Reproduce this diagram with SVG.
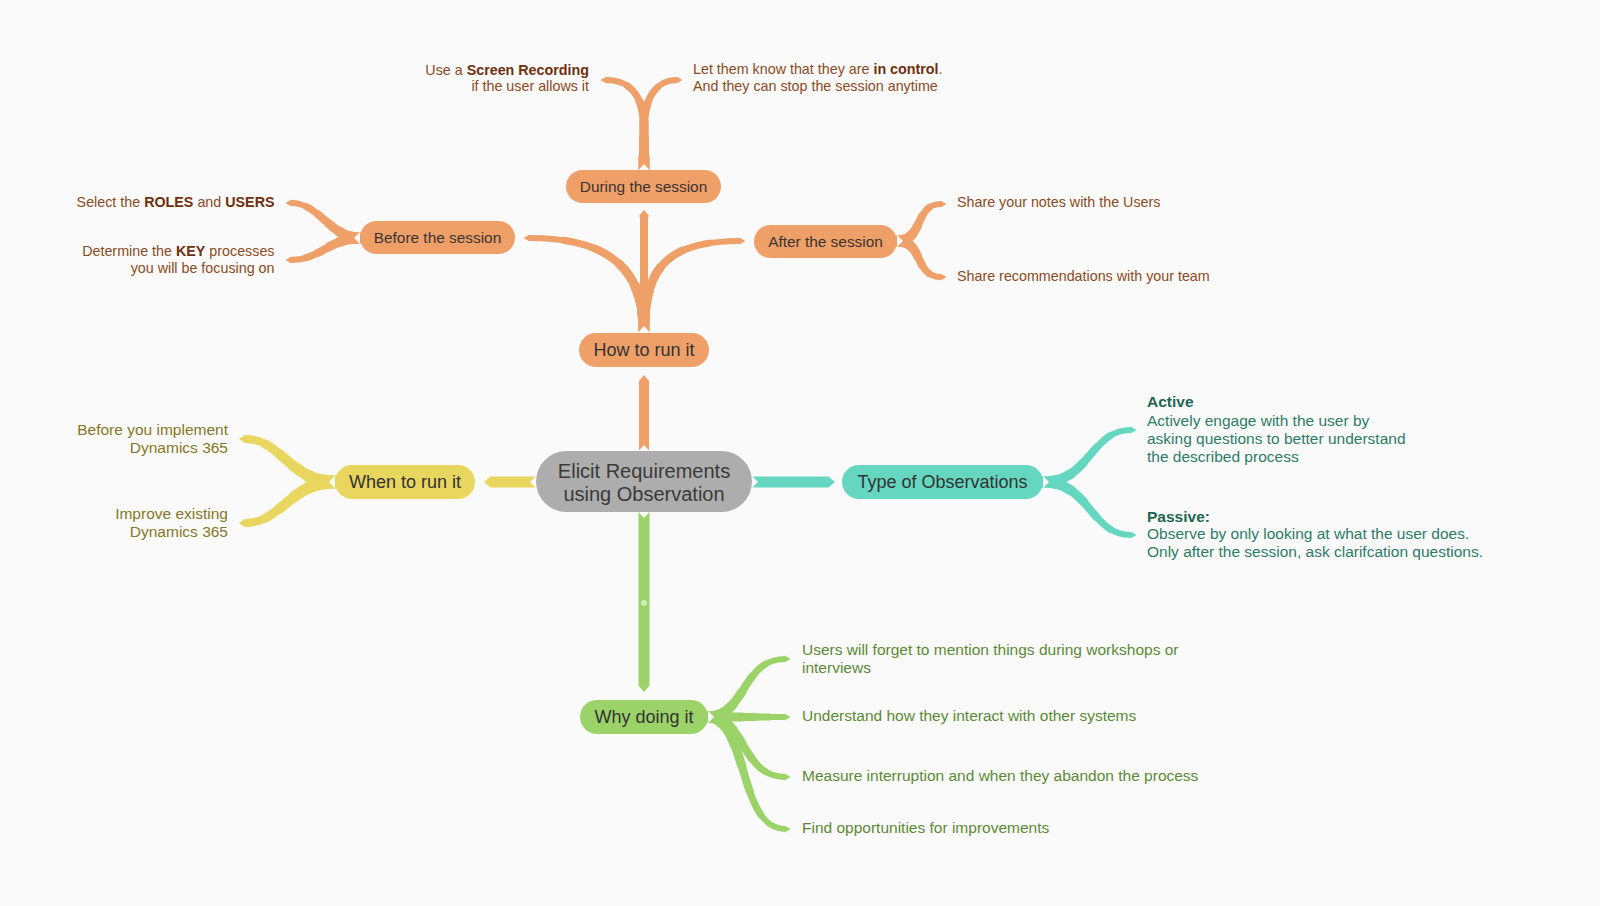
<svg xmlns="http://www.w3.org/2000/svg" width="1600" height="906" viewBox="0 0 1600 906">
<defs>
<style>
text{font-family:"Liberation Sans",Arial,sans-serif}
.ct{fill:#3a3a3a;font-size:20px;text-anchor:middle}
.nt{fill:#333333;font-size:18px;text-anchor:middle}
.st{fill:#3b3430;font-size:15.4px;text-anchor:middle}
.lo{fill:#8B4A24;font-size:14.3px}
.bo{font-weight:bold;fill:#6E2F0E}
.ly{fill:#847826;font-size:15.5px;text-anchor:end}
.lt{fill:#2E7B68;font-size:15.5px}
.bt{font-weight:bold;fill:#1E6652}
.lg{fill:#5B8A36;font-size:15.5px}
.cn path,.cn use{fill:none}
.o{stroke:#EF9F68}
.y{stroke:#E8D65E}
.t{stroke:#65D7C0}
.g{stroke:#9BD369}
.w0{stroke-width:6}
.w1{stroke-width:7;stroke-dasharray:80 200;stroke-linecap:round}
.w2{stroke-width:8;stroke-dasharray:62 200;stroke-linecap:round}
.w3{stroke-width:9;stroke-dasharray:44 200;stroke-linecap:round}
.w4{stroke-width:10;stroke-dasharray:28 200;stroke-linecap:round}
.w5{stroke-width:11;stroke-dasharray:12 200;stroke-linecap:round}
.v0{stroke-width:8}
.v1{stroke-width:9;stroke-dasharray:80 200;stroke-linecap:round}
.v2{stroke-width:10;stroke-dasharray:62 200;stroke-linecap:round}
.v3{stroke-width:11;stroke-dasharray:44 200;stroke-linecap:round}
.v4{stroke-width:12;stroke-dasharray:28 200;stroke-linecap:round}
.v5{stroke-width:13;stroke-dasharray:12 200;stroke-linecap:round}
.o.w0{marker-end:url(#ao)}
.y.v0{marker-end:url(#ayb)}
.t.w0{marker-end:url(#at)}
.g.w0{marker-end:url(#ag)}
.bar{stroke-width:10}
.notch{fill:#FAFAFA}
.n-o{fill:#EF9F68}
.n-y{fill:#E8D65E}
.n-t{fill:#65D7C0}
.n-g{fill:#9BD369}
.n-c{fill:#ADADAD}
</style>
<marker id="ao" viewBox="-1 -6 12 12" refX="0" refY="0" markerWidth="12" markerHeight="12" markerUnits="userSpaceOnUse" orient="auto" overflow="visible"><path d="M-0.5,-3.6 L5.5,0 L-0.5,3.6 Z" fill="#EF9F68"/></marker>
<marker id="ayb" viewBox="-1 -6 12 12" refX="0" refY="0" markerWidth="12" markerHeight="12" markerUnits="userSpaceOnUse" orient="auto" overflow="visible"><path d="M-0.5,-4.6 L6,0 L-0.5,4.6 Z" fill="#E8D65E"/></marker>
<marker id="at" viewBox="-1 -6 12 12" refX="0" refY="0" markerWidth="12" markerHeight="12" markerUnits="userSpaceOnUse" orient="auto" overflow="visible"><path d="M-0.5,-3.6 L5.5,0 L-0.5,3.6 Z" fill="#65D7C0"/></marker>
<marker id="ag" viewBox="-1 -6 12 12" refX="0" refY="0" markerWidth="12" markerHeight="12" markerUnits="userSpaceOnUse" orient="auto" overflow="visible"><path d="M-0.5,-3.6 L5.5,0 L-0.5,3.6 Z" fill="#9BD369"/></marker>
<marker id="bo" viewBox="-1 -7 14 14" refX="0" refY="0" markerWidth="14" markerHeight="14" markerUnits="userSpaceOnUse" orient="auto" overflow="visible"><path d="M-0.5,-5.5 L6,0 L-0.5,5.5 Z" fill="#EF9F68"/></marker>
<marker id="by" viewBox="-1 -7 14 14" refX="0" refY="0" markerWidth="14" markerHeight="14" markerUnits="userSpaceOnUse" orient="auto" overflow="visible"><path d="M-0.5,-5.5 L6,0 L-0.5,5.5 Z" fill="#E8D65E"/></marker>
<marker id="bt" viewBox="-1 -7 14 14" refX="0" refY="0" markerWidth="14" markerHeight="14" markerUnits="userSpaceOnUse" orient="auto" overflow="visible"><path d="M-0.5,-5.5 L6,0 L-0.5,5.5 Z" fill="#65D7C0"/></marker>
<marker id="bg" viewBox="-1 -7 14 14" refX="0" refY="0" markerWidth="14" markerHeight="14" markerUnits="userSpaceOnUse" orient="auto" overflow="visible"><path d="M-0.5,-5.5 L6,0 L-0.5,5.5 Z" fill="#9BD369"/></marker>
<path id="cBefore" pathLength="100" d="M644,333 C644,268 608,238 529,238"/>
<path id="cAfter" pathLength="100" d="M644,333 C644,270 665,241 740,241"/>
<path id="cD1" pathLength="100" d="M644,170 L644,128 C644,96 630,80 606,80"/>
<path id="cD2" pathLength="100" d="M644,170 L644,128 C644,96 658,80 677,80"/>
<path id="cB1" pathLength="100" d="M360,238 C330,238 320,203 291,203"/>
<path id="cB2" pathLength="100" d="M360,238 C330,238 320,260 291,260"/>
<path id="cA1" pathLength="100" d="M897,241 C924,241 914,204 941,204"/>
<path id="cA2" pathLength="100" d="M897,241 C924,241 914,277 941,277"/>
<path id="cW1" pathLength="100" d="M335,482 C290,482 282,439 245,439"/>
<path id="cW2" pathLength="100" d="M335,482 C290,482 282,523 245,523"/>
<path id="cT1" pathLength="100" d="M1043,482 C1090,482 1090,430 1131,430"/>
<path id="cT2" pathLength="100" d="M1043,482 C1090,482 1090,535 1131,535"/>
<path id="cY1" pathLength="100" d="M708,717 C745,717 742,659 785,659"/>
<path id="cY2" pathLength="100" d="M708,717 L785,717"/>
<path id="cY3" pathLength="100" d="M708,717 C745,717 742,777 785,777"/>
<path id="cY4" pathLength="100" d="M708,717 C748,717 738,829 785,829"/>
</defs>
<rect width="1600" height="906" fill="#FAFAFA"/>

<g id="connectors" class="cn">
  <path class="o bar" d="M644,451 L644,381" marker-end="url(#bo)"/>
  <path class="o" stroke-width="8" d="M644,333 L644,216" marker-end="url(#bo)"/>
  <use href="#cBefore" class="o w0"/><use href="#cBefore" class="o w1"/><use href="#cBefore" class="o w2"/><use href="#cBefore" class="o w3"/><use href="#cBefore" class="o w4"/><use href="#cBefore" class="o w5"/>
  <use href="#cAfter" class="o w0"/><use href="#cAfter" class="o w1"/><use href="#cAfter" class="o w2"/><use href="#cAfter" class="o w3"/><use href="#cAfter" class="o w4"/><use href="#cAfter" class="o w5"/>
  <use href="#cD1" class="o w0"/><use href="#cD1" class="o w1"/><use href="#cD1" class="o w2"/><use href="#cD1" class="o w3"/><use href="#cD1" class="o w4"/><use href="#cD1" class="o w5"/>
  <use href="#cD2" class="o w0"/><use href="#cD2" class="o w1"/><use href="#cD2" class="o w2"/><use href="#cD2" class="o w3"/><use href="#cD2" class="o w4"/><use href="#cD2" class="o w5"/>
  <use href="#cB1" class="o w0"/><use href="#cB1" class="o w1"/><use href="#cB1" class="o w2"/><use href="#cB1" class="o w3"/><use href="#cB1" class="o w4"/><use href="#cB1" class="o w5"/>
  <use href="#cB2" class="o w0"/><use href="#cB2" class="o w1"/><use href="#cB2" class="o w2"/><use href="#cB2" class="o w3"/><use href="#cB2" class="o w4"/><use href="#cB2" class="o w5"/>
  <use href="#cA1" class="o w0"/><use href="#cA1" class="o w1"/><use href="#cA1" class="o w2"/><use href="#cA1" class="o w3"/><use href="#cA1" class="o w4"/><use href="#cA1" class="o w5"/>
  <use href="#cA2" class="o w0"/><use href="#cA2" class="o w1"/><use href="#cA2" class="o w2"/><use href="#cA2" class="o w3"/><use href="#cA2" class="o w4"/><use href="#cA2" class="o w5"/>

  <path class="y" stroke-width="11" d="M536,482 L490,482" marker-end="url(#by)"/>
  <use href="#cW1" class="y v0"/><use href="#cW1" class="y v1"/><use href="#cW1" class="y v2"/><use href="#cW1" class="y v3"/><use href="#cW1" class="y v4"/><use href="#cW1" class="y v5"/>
  <use href="#cW2" class="y v0"/><use href="#cW2" class="y v1"/><use href="#cW2" class="y v2"/><use href="#cW2" class="y v3"/><use href="#cW2" class="y v4"/><use href="#cW2" class="y v5"/>

  <path class="t" stroke-width="11" d="M752,482 L829,482" marker-end="url(#bt)"/>
  <use href="#cT1" class="t w0"/><use href="#cT1" class="t w1"/><use href="#cT1" class="t w2"/><use href="#cT1" class="t w3"/><use href="#cT1" class="t w4"/><use href="#cT1" class="t w5"/>
  <use href="#cT2" class="t w0"/><use href="#cT2" class="t w1"/><use href="#cT2" class="t w2"/><use href="#cT2" class="t w3"/><use href="#cT2" class="t w4"/><use href="#cT2" class="t w5"/>

  <path class="g" stroke-width="11" d="M644,512 L644,686" marker-end="url(#bg)"/>
  <circle cx="644" cy="603" r="3" fill="#CFEBBA"/>
  <use href="#cY1" class="g w0"/><use href="#cY1" class="g w1"/><use href="#cY1" class="g w2"/><use href="#cY1" class="g w3"/><use href="#cY1" class="g w4"/><use href="#cY1" class="g w5"/>
  <use href="#cY2" class="g w0"/><use href="#cY2" class="g w1"/><use href="#cY2" class="g w2"/><use href="#cY2" class="g w3"/><use href="#cY2" class="g w4"/><use href="#cY2" class="g w5"/>
  <use href="#cY3" class="g w0"/><use href="#cY3" class="g w1"/><use href="#cY3" class="g w2"/><use href="#cY3" class="g w3"/><use href="#cY3" class="g w4"/><use href="#cY3" class="g w5"/>
  <use href="#cY4" class="g w0"/><use href="#cY4" class="g w1"/><use href="#cY4" class="g w2"/><use href="#cY4" class="g w3"/><use href="#cY4" class="g w4"/><use href="#cY4" class="g w5"/>

  <polygon class="notch" points="638.5,451 649.5,451 644,445"/>
  <polygon class="notch" points="637.5,333 650.5,333 644,326"/>
  <polygon class="notch" points="638.5,170 649.5,170 644,164"/>
  <polygon class="notch" points="360,232 360,244 354,238"/>
  <polygon class="notch" points="897,235 897,247 903,241"/>
  <polygon class="notch" points="536,476 536,488 530,482"/>
  <polygon class="notch" points="335,475.5 335,488.5 329,482"/>
  <polygon class="notch" points="752,476 752,488 758,482"/>
  <polygon class="notch" points="1043,476 1043,488 1049,482"/>
  <polygon class="notch" points="638.5,512 649.5,512 644,518"/>
  <polygon class="notch" points="708,711 708,723 714,717"/>
</g>

<g id="node-central">
  <rect class="n-c" x="536" y="451" width="216" height="61" rx="30.5"/>
  <text class="ct" x="644" y="477.5">Elicit Requirements</text>
  <text class="ct" x="644" y="501">using Observation</text>
</g>
<g id="node-how">
  <rect class="n-o" x="579" y="333" width="130" height="34" rx="17"/>
  <text class="nt" x="644" y="356.3">How to run it</text>
</g>
<g id="node-during">
  <rect class="n-o" x="566" y="170" width="155" height="33" rx="16.5"/>
  <text class="st" x="643.5" y="192">During the session</text>
</g>
<g id="node-before">
  <rect class="n-o" x="360" y="221" width="155" height="33" rx="16.5"/>
  <text class="st" x="437.5" y="243">Before the session</text>
</g>
<g id="node-after">
  <rect class="n-o" x="754" y="225" width="143" height="33" rx="16.5"/>
  <text class="st" x="825.5" y="247">After the session</text>
</g>
<g id="node-when">
  <rect class="n-y" x="335" y="465" width="140" height="34" rx="17"/>
  <text class="nt" x="405" y="488.3">When to run it</text>
</g>
<g id="node-type">
  <rect class="n-t" x="842" y="465" width="201" height="34" rx="17"/>
  <text class="nt" x="942.5" y="488.3">Type of Observations</text>
</g>
<g id="node-why">
  <rect class="n-g" x="580" y="700" width="128" height="34" rx="17"/>
  <text class="nt" x="644" y="723.3">Why doing it</text>
</g>

<g id="leaf-screen">
  <text class="lo" x="589" y="74.5" text-anchor="end">Use a <tspan class="bo">Screen Recording</tspan></text>
  <text class="lo" x="589" y="91" text-anchor="end">if the user allows it</text>
</g>
<g id="leaf-control">
  <text class="lo" x="693" y="74">Let them know that they are <tspan class="bo">in control</tspan>.</text>
  <text class="lo" x="693" y="90.5">And they can stop the session anytime</text>
</g>
<g id="leaf-roles">
  <text class="lo" x="274.5" y="206.7" text-anchor="end">Select the <tspan class="bo">ROLES</tspan> and <tspan class="bo">USERS</tspan></text>
</g>
<g id="leaf-key">
  <text class="lo" x="274.5" y="256" text-anchor="end">Determine the <tspan class="bo">KEY</tspan> processes</text>
  <text class="lo" x="274.5" y="272.7" text-anchor="end">you will be focusing on</text>
</g>
<g id="leaf-notes">
  <text class="lo" x="957" y="206.7">Share your notes with the Users</text>
</g>
<g id="leaf-reco">
  <text class="lo" x="957" y="280.7">Share recommendations with your team</text>
</g>
<g id="leaf-before-impl">
  <text class="ly" x="228" y="435">Before you implement</text>
  <text class="ly" x="228" y="453.3">Dynamics 365</text>
</g>
<g id="leaf-improve">
  <text class="ly" x="228" y="519">Improve existing</text>
  <text class="ly" x="228" y="536.7">Dynamics 365</text>
</g>
<g id="leaf-active">
  <text class="lt bt" x="1147" y="407.3">Active</text>
  <text class="lt" x="1147" y="426">Actively engage with the user by</text>
  <text class="lt" x="1147" y="444">asking questions to better understand</text>
  <text class="lt" x="1147" y="461.7">the described process</text>
</g>
<g id="leaf-passive">
  <text class="lt bt" x="1147" y="521.7">Passive:</text>
  <text class="lt" x="1147" y="539.3">Observe by only looking at what the user does.</text>
  <text class="lt" x="1147" y="556.7">Only after the session, ask clarifcation questions.</text>
</g>
<g id="leaf-forget">
  <text class="lg" x="802" y="655">Users will forget to mention things during workshops or</text>
  <text class="lg" x="802" y="672.7">interviews</text>
</g>
<g id="leaf-interact">
  <text class="lg" x="802" y="721">Understand how they interact with other systems</text>
</g>
<g id="leaf-measure">
  <text class="lg" x="802" y="781">Measure interruption and when they abandon the process</text>
</g>
<g id="leaf-find">
  <text class="lg" x="802" y="833.3">Find opportunities for improvements</text>
</g>
</svg>
